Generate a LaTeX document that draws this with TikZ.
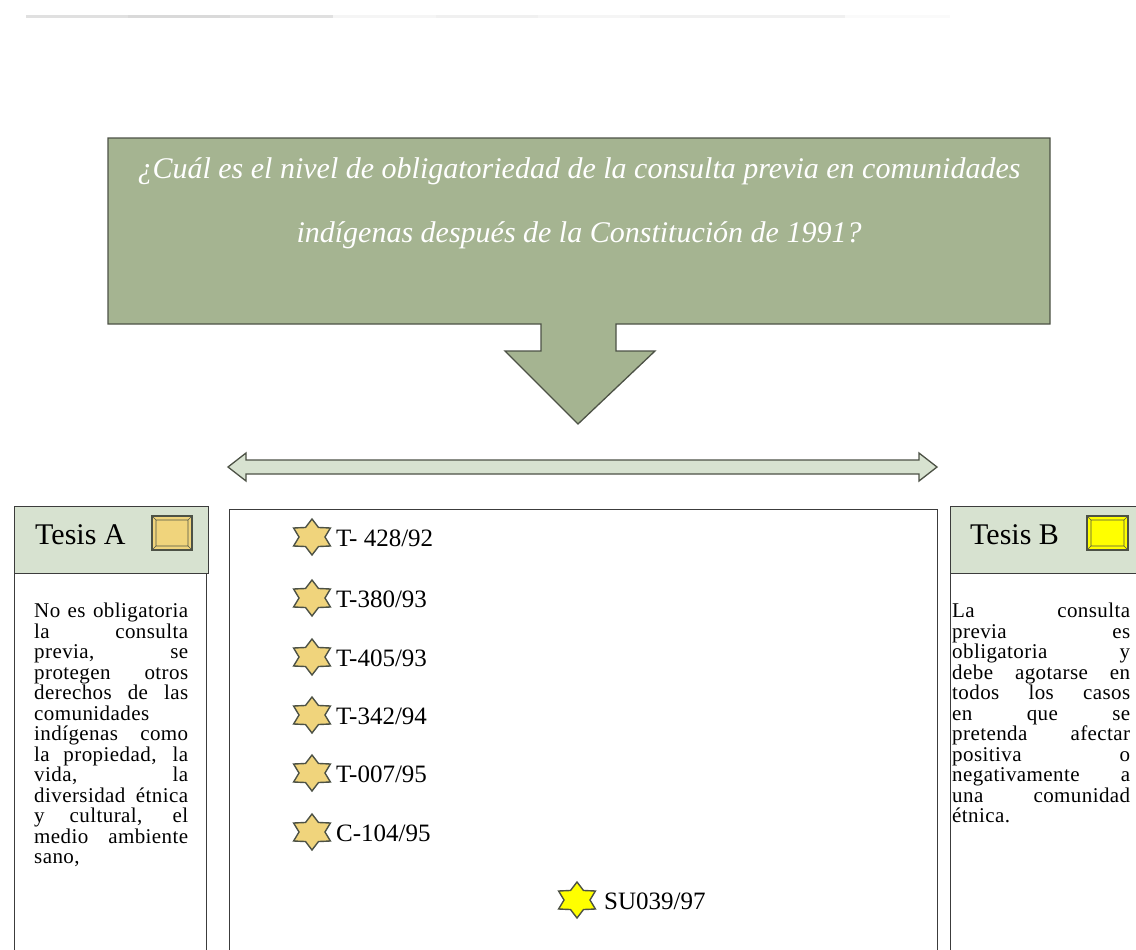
\documentclass[tikz,border=0pt]{standalone}
\usepackage{fontspec}
\setmainfont{Liberation Serif}
\definecolor{callout}{RGB}{165,180,145}
\definecolor{lightgr}{RGB}{215,226,208}
\definecolor{edge}{RGB}{77,82,70}
\definecolor{starfill}{RGB}{240,212,124}
\definecolor{staryel}{RGB}{255,255,0}
\definecolor{boxedge}{RGB}{60,60,60}
\newlength\colw
\newcommand{\jl}[1]{\makebox[\colw][s]{\spaceskip=0.2em plus 1fil\relax #1}}
\newcommand{\hexstar}[4]{%
  \coordinate (#1) at (#2,#3);
  \draw[starline, fill=#4, shift={(#1)}, xscale=1.18]
    (90:18) -- (120:11) -- (150:18) -- (180:11) -- (210:18) -- (240:11) -- (270:18)
    -- (300:11) -- (330:18) -- (0:11) -- (30:18) -- (60:11) -- cycle;}
\tikzset{
  starline/.style={draw=edge, line width=1.4pt, line join=miter},
  caselabel/.style={anchor=base west, inner sep=0pt, font=\fontsize{25}{25}\selectfont},
  thesis/.style={anchor=base west, inner sep=0pt, font=\fontsize{30}{30}\selectfont},
  bodytext/.style={anchor=north west, inner sep=0pt, align=left,
    font=\fontsize{21}{20.5}\selectfont\addfontfeature{LetterSpace=2}},
  panel/.style={draw=boxedge, line width=0.9pt},
}
\begin{document}
\begin{tikzpicture}[x=1pt,y=-1pt]
\useasboundingbox (0,0) rectangle (1136,950);
% top faint bar
\fill[black!12] (26,15) rectangle (128,18);
\fill[black!15] (128,15) rectangle (230,18);
\fill[black!12] (230,15) rectangle (333,18);
\fill[black!4] (333,15) rectangle (436,18);
\fill[black!6] (436,15) rectangle (538,18);
\fill[black!4] (538,15) rectangle (640,18);
\fill[black!6] (640,15) rectangle (845,18);
\fill[black!2] (845,15) rectangle (950,18);
% callout
\draw[fill=callout, draw=edge, line width=1.3pt]
  (108,138) -- (1050,138) -- (1050,324) -- (616,324) -- (616,351) -- (655,351)
  -- (578,424) -- (505,351) -- (541,351) -- (541,324) -- (108,324) -- cycle;
\node[align=center, text=white, inner sep=0pt, font=\fontsize{30}{64}\selectfont\itshape] (q) at (579,203)
  {¿Cuál es el nivel de obligatoriedad de la consulta previa en comunidades\\
   indígenas después de la Constitución de 1991?};
% double arrow
\draw[fill=lightgr, draw=edge, line width=1.3pt]
  (228,467) -- (246,453) -- (246,460) -- (919,460) -- (919,453) -- (937,467)
  -- (919,481) -- (919,474) -- (246,474) -- (246,481) -- cycle;
% center panel
\draw[panel] (229,509) -- (229,952) (229,509) -- (937,509) -- (937,952);
% left panel
\draw[panel, fill=lightgr] (14,506) rectangle (208,573);
\draw[panel] (14,573) -- (14,952) (206,573) -- (206,952);
\node[thesis] (ta) at (35,544) {Tesis A};
\draw[fill=starfill, draw=edge, line width=1.5pt] (152,516) rectangle (192,550);
\draw[draw=edge, line width=0.6pt] (156,520) rectangle (188,546)
  (152,516) -- (156,520) (192,516) -- (188,520) (152,550) -- (156,546) (192,550) -- (188,546);
\setlength\colw{154pt}%
\node[bodytext, text width=154pt] (ba) at (34,603) {%
\jl{No es obligatoria}\\
\jl{la consulta}\\
\jl{previa, se}\\
\jl{protegen otros}\\
\jl{derechos de las}\\
comunidades\\
\jl{indígenas como}\\
\jl{la propiedad, la}\\
\jl{vida, la}\\
\jl{diversidad étnica}\\
\jl{y cultural, el}\\
\jl{medio ambiente}\\
sano,};
% right panel
\draw[panel, fill=lightgr] (950,506) rectangle (1140,573);
\draw[panel] (950,573) -- (950,952);
\node[thesis] (tb) at (970,544) {Tesis B};
\draw[fill=staryel, draw=edge, line width=1.5pt] (1087,516) rectangle (1128,550);
\draw[draw=edge, line width=0.6pt] (1091,520) rectangle (1124,546)
  (1087,516) -- (1091,520) (1128,516) -- (1124,520) (1087,550) -- (1091,546) (1128,550) -- (1124,546);
\setlength\colw{178pt}%
\node[bodytext, text width=178pt] (bb) at (952,603) {%
\jl{La consulta}\\
\jl{previa es}\\
\jl{obligatoria y}\\
\jl{debe agotarse en}\\
\jl{todos los casos}\\
\jl{en que se}\\
\jl{pretenda afectar}\\
\jl{positiva o}\\
\jl{negativamente a}\\
\jl{una comunidad}\\
étnica.};
% cases
\hexstar{s1}{312}{537}{starfill}
\node[caselabel] (l1) at (336,546) {T- 428/92};
\hexstar{s2}{312}{598}{starfill}
\node[caselabel] (l2) at (336,607) {T-380/93};
\hexstar{s3}{312}{657}{starfill}
\node[caselabel] (l3) at (336,666) {T-405/93};
\hexstar{s4}{312}{715}{starfill}
\node[caselabel] (l4) at (336,724) {T-342/94};
\hexstar{s5}{312}{773}{starfill}
\node[caselabel] (l5) at (336,782) {T-007/95};
\hexstar{s6}{312}{832}{starfill}
\node[caselabel] (l6) at (336,841) {C-104/95};
\hexstar{s7}{577}{900}{staryel}
\node[caselabel] (l7) at (604,909) {SU039/97};
\end{tikzpicture}
\end{document}
